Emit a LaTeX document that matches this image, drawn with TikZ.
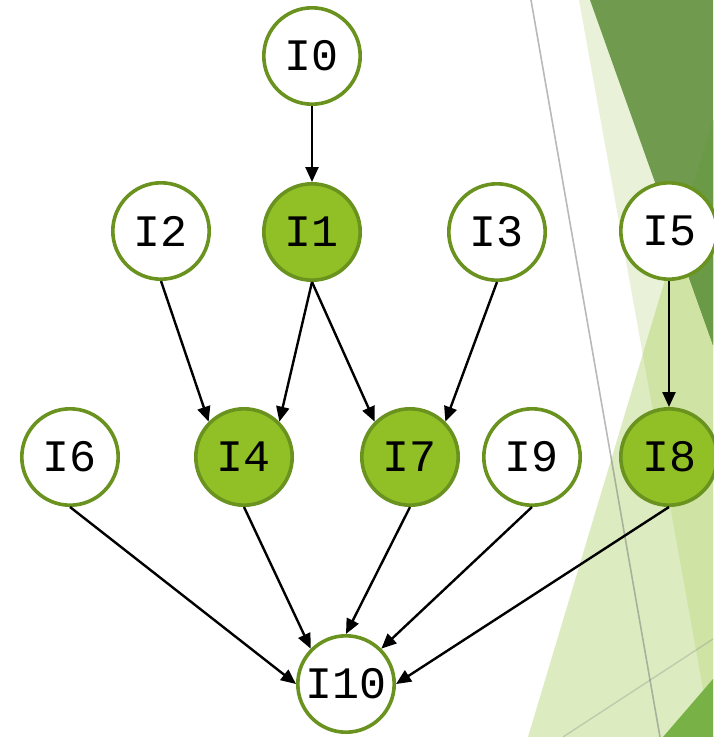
\documentclass[tikz,border=0pt]{standalone}
\usepackage{fontspec}
\newfontfamily\ttnode{Liberation Mono}
\usetikzlibrary{arrows.meta}
\definecolor{palebg}{HTML}{E9F2D8}
\definecolor{midbg}{HTML}{DDEBC0}
\definecolor{midpale}{HTML}{CFE3A5}
\definecolor{darkbg}{HTML}{709B4E}
\definecolor{darkmid}{HTML}{6A9A45}
\definecolor{cornerbg}{HTML}{78B247}
\definecolor{nodeborder}{HTML}{6A921F}
\definecolor{nodefill}{HTML}{90C026}
\tikzset{
  inode/.style={circle, draw=nodeborder, line width=3.6pt, minimum size=96.4pt, inner sep=0pt, fill=white, font=\ttnode\fontsize{45pt}{50pt}\selectfont},
  fnode/.style={inode, fill=nodefill},
  edge/.style={-{Triangle[length=15pt,width=13pt]}, line width=2.4pt, black}
}
\begin{document}
\begin{tikzpicture}[x=1pt,y=-1pt]
\useasboundingbox (0,0) rectangle (713,737);
\fill[white] (0,0) rectangle (713,737);
% background facets
\fill[palebg] (579,0) -- (713,0) -- (713,737) -- (711.7,737) -- cycle;
\fill[midbg] (528,737) -- (713,120) -- (713,737) -- cycle;
\begin{scope}
  \clip (528,737) -- (713,120) -- (713,737) -- cycle;
  \fill[midpale] (579,0) -- (713,0) -- (713,737) -- (711.7,737) -- cycle;
\end{scope}
\fill[darkbg] (590,0) -- (713,0) -- (713,345) -- cycle;
\begin{scope}
  \clip (528,737) -- (713,120) -- (713,737) -- cycle;
  \fill[darkmid] (590,0) -- (713,0) -- (713,345) -- cycle;
\end{scope}
\fill[cornerbg] (663,737) -- (713,679) -- (713,737) -- cycle;
\draw[gray, opacity=0.55, line width=1.6pt] (531,0) -- (660,737);
\draw[gray, opacity=0.3, line width=1.4pt] (563,737) -- (713,639);
% nodes
\node[inode] (I0) at (312,56) {I0};
\node[fnode] (I1) at (312,232) {I1};
\node[inode] (I2) at (161,231) {I2};
\node[inode] (I3) at (497,232) {I3};
\node[inode] (I5) at (669,231) {I5};
\node[inode] (I6) at (70,457) {I6};
\node[fnode] (I4) at (244,457) {I4};
\node[fnode] (I7) at (410,457) {I7};
\node[inode] (I9) at (532,457) {I9};
\node[fnode] (I8) at (669,457) {I8};
\node[inode] (I10) at (346,684) {I10};
% edges
\draw[edge] (I0.south) -- (I1.north);
\draw[edge] (I2.south) -- (I4.north west);
\draw[edge] (I1.south) -- (I4.north east);
\draw[edge] (I1.south) -- (I7.north west);
\draw[edge] (I3.south) -- (I7.north east);
\draw[edge] (I5.south) -- (I8.north);
\draw[edge] (I6.south) -- (I10.west);
\draw[edge] (I4.south) -- (I10.north west);
\draw[edge] (I7.south) -- (I10.north);
\draw[edge] (I9.south) -- (I10.north east);
\draw[edge] (I8.south) -- (I10.east);
\end{tikzpicture}
\end{document}
